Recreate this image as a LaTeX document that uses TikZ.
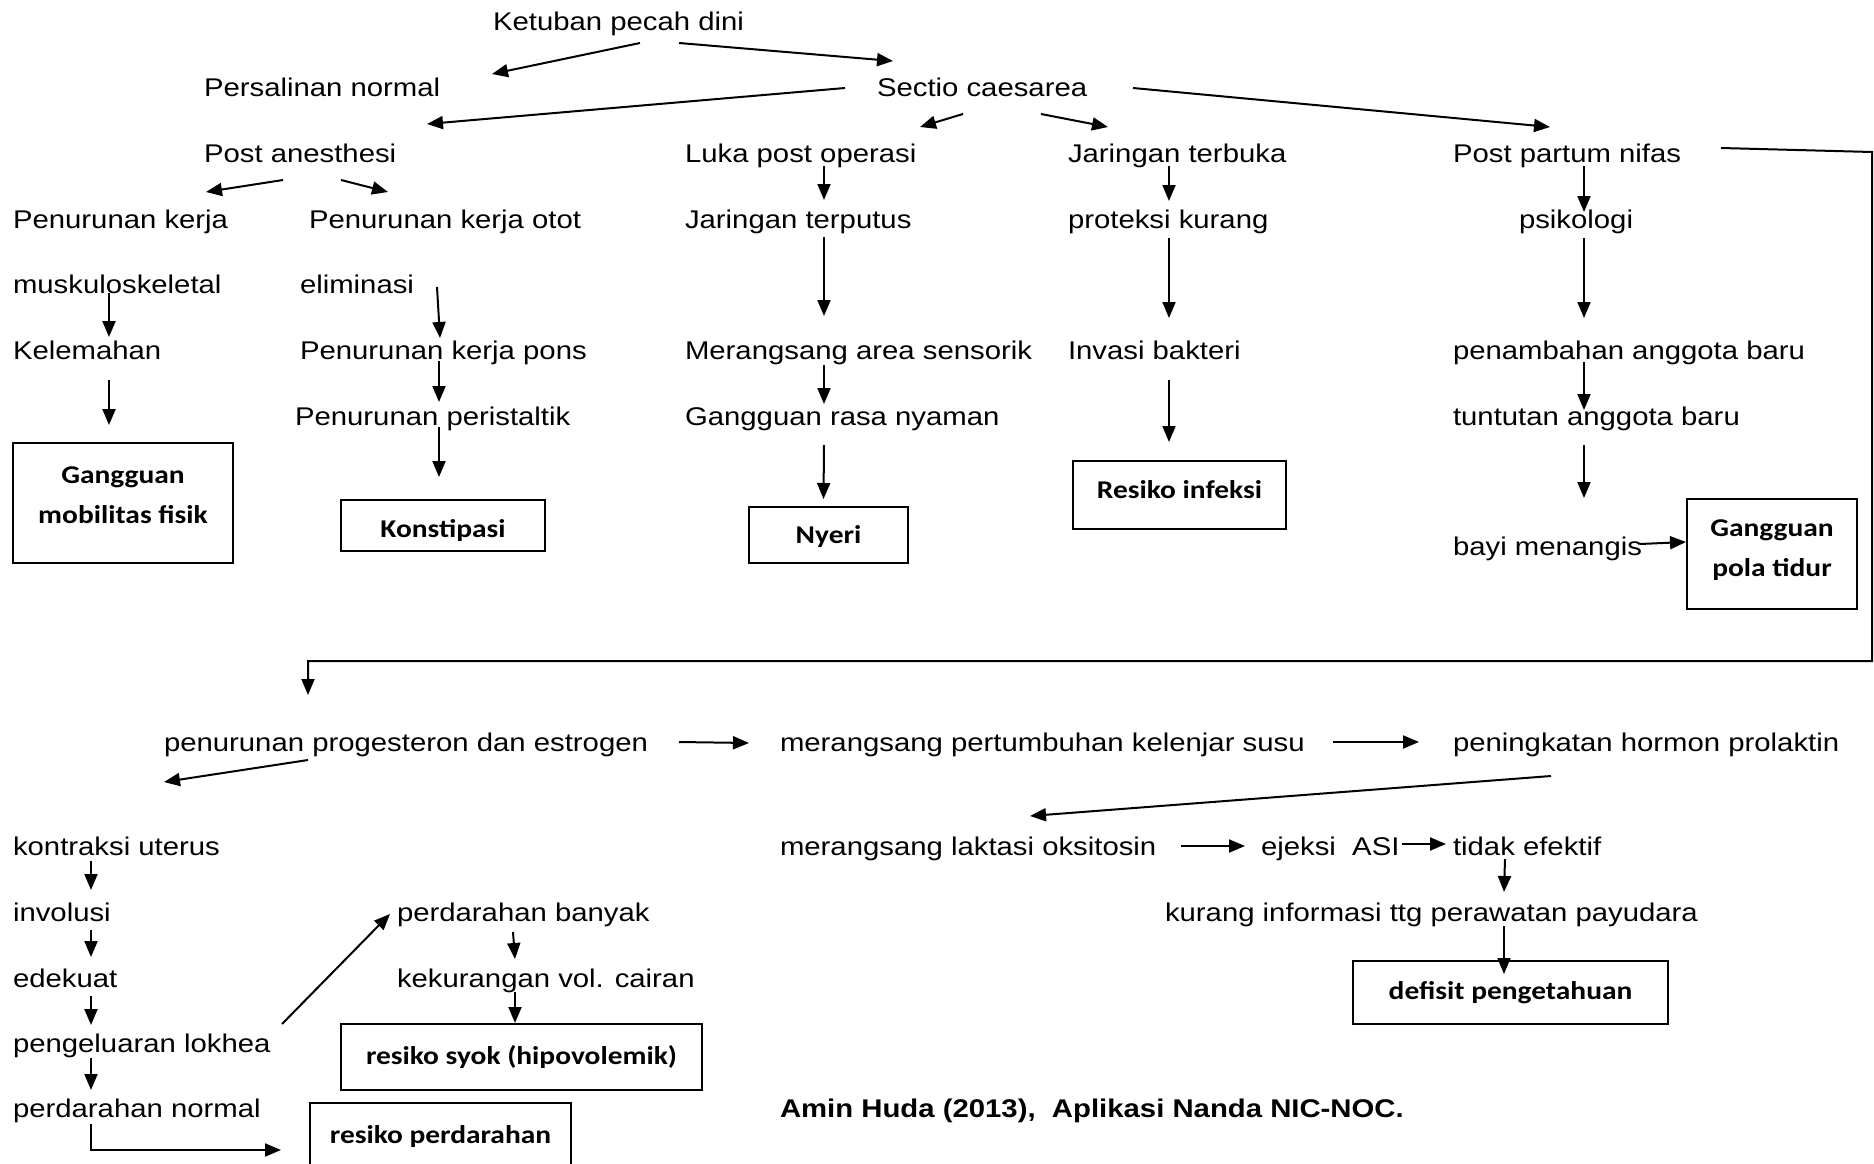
\documentclass[tikz,border=0pt]{standalone}
\usepackage{fontspec}
\setmainfont{Liberation Sans}[FakeStretch=1.145]
\newfontfamily\carlito{Carlito}[FakeStretch=1.15]
\usepackage{tikz}
\usetikzlibrary{arrows.meta}

\begin{document}
\begin{tikzpicture}[x=1pt, y=-1pt, line width=2pt,
  txt/.style={anchor=base west, inner sep=0pt, font=\fontsize{25.6pt}{34pt}\selectfont},
  diag/.style={draw, inner sep=0pt},
  diagtxt/.style={inner sep=0pt, align=center, font=\fontsize{25.6pt}{40pt}\selectfont\carlito\bfseries},
  arr/.style={-{Triangle[length=16pt,width=13pt]}}]

\clip (0,0) rectangle (1874,1164);
\fill[white] (0,0) rectangle (1874,1164);

\node[txt] (ketuban) at (492,31) {Ketuban pecah dini};
\node[txt] (persalinan) at (203,96) {Persalinan normal};
\node[txt] (sectio) at (876,96) {Sectio caesarea};

\node[txt] (anestesi) at (203,162) {Post anesthesi};
\node[txt] (luka) at (684,162) {Luka post operasi};
\node[txt] (terbuka) at (1067,162) {Jaringan terbuka};
\node[txt] (nifas) at (1452,162) {Post partum nifas};

\node[txt] (kerja) at (12,228) {Penurunan kerja};
\node[txt] (otot) at (308,228) {Penurunan kerja otot};
\node[txt] (terputus) at (684,228) {Jaringan terputus};
\node[txt] (proteksi) at (1067,228) {proteksi kurang};
\node[txt] (psikologi) at (1518,228) {psikologi};

\node[txt] (muskulo) at (12,293) {muskuloskeletal};
\node[txt] (eliminasi) at (299,293) {eliminasi};

\node[txt] (lemah) at (12,359) {Kelemahan};
\node[txt] (pons) at (299,359) {Penurunan kerja pons};
\node[txt] (sensorik) at (684,359) {Merangsang area sensorik};
\node[txt] (invasi) at (1067,359) {Invasi bakteri};
\node[txt] (tambah) at (1452,359) {penambahan anggota baru};

\node[txt] (peristaltik) at (294,425) {Penurunan peristaltik};
\node[txt] (nyaman) at (684,425) {Gangguan rasa nyaman};
\node[txt] (tuntutan) at (1452,425) {tuntutan anggota baru};
\node[txt] (bayi) at (1452,555) {bayi menangis};

\node[diag, minimum width=220pt, minimum height=120pt] (mobilitas) at (123,503) {};
\node[diagtxt] at ([yshift=8pt]mobilitas.center) {Gangguan\\mobilitas fisik};
\node[diag, minimum width=204pt, minimum height=51pt] (konstipasi) at (443,525.5) {};
\node[diagtxt] at ([yshift=-5pt]konstipasi.center) {Konstipasi};
\node[diag, minimum width=159pt, minimum height=56pt] (nyeri) at (828.5,535) {};
\node[diagtxt] at ([yshift=-2pt]nyeri.center) {Nyeri};
\node[diag, minimum width=213pt, minimum height=68pt] (infeksi) at (1179.5,495) {};
\node[diagtxt] at ([yshift=5pt]infeksi.center) {Resiko infeksi};
\node[diag, minimum width=170pt, minimum height=110pt] (tidur) at (1772,554) {};
\node[diagtxt] at ([yshift=4pt]tidur.center) {Gangguan\\pola tidur};

\node[txt] (hormon) at (163,751) {penurunan progesteron dan estrogen};
\node[txt] (kelenjar) at (779,751) {merangsang pertumbuhan kelenjar susu};
\node[txt] (prolaktin) at (1452,751) {peningkatan hormon prolaktin};

\node[txt] (kontraksi) at (12,855) {kontraksi uterus};
\node[txt] (laktasi) at (779,855) {merangsang laktasi oksitosin};
\node[txt] (ejeksi) at (1260,855) {ejeksi\ \ ASI};
\node[txt] (tidak) at (1452,855) {tidak efektif};
\node[txt] (involusi) at (12,921) {involusi};
\node[txt] (banyak) at (396,921) {perdarahan banyak};
\node[txt] (informasi) at (1164,921) {kurang informasi ttg perawatan payudara};
\node[txt] (edekuat) at (12,987) {edekuat};
\node[txt] (kekurangan) at (396,987) {kekurangan vol. cairan};
\node[txt] (lokhea) at (12,1052) {pengeluaran lokhea};
\node[txt] (normal) at (12,1117) {perdarahan normal};
\node[txt, font=\fontsize{25.6pt}{34pt}\selectfont\bfseries] (sumber) at (779,1117) {Amin Huda (2013),\ \ Aplikasi Nanda NIC-NOC.};

\node[diag, minimum width=315pt, minimum height=63pt] (defisit) at (1510.5,992.5) {};
\node[diagtxt] at (defisit.center) {defisit pengetahuan};
\node[diag, minimum width=361pt, minimum height=66pt] (syok) at (521.5,1057) {};
\node[diagtxt] at (syok.center) {resiko syok (hipovolemik)};
\node[diag, minimum width=261pt, minimum height=64pt] (resikodarah) at (440.5,1135) {};
\node[diagtxt] at ([yshift=-2pt]resikodarah.center) {resiko perdarahan};

\coordinate (railtop) at (1872,152);
\coordinate (railbottom) at (1872,661);

\draw[arr] ([xshift=148pt,yshift=-12pt]ketuban.base west) -- ([xshift=289pt,yshift=22pt]persalinan.base west);
\draw[arr] ([xshift=187pt,yshift=-12pt]ketuban.base west) -- ([xshift=17pt,yshift=35pt]sectio.base west);
\draw[arr] ([xshift=-31pt,yshift=8pt]sectio.base west) -- ([xshift=224pt,yshift=38pt]anestesi.base west);
\draw[arr] ([xshift=87pt,yshift=-18pt]sectio.base west) -- ([xshift=236pt,yshift=35pt]luka.base west);
\draw[arr] ([xshift=165pt,yshift=-18pt]sectio.base west) -- ([xshift=41pt,yshift=35pt]terbuka.base west);
\draw[arr] ([xshift=257pt,yshift=8pt]sectio.base west) -- ([xshift=98pt,yshift=35pt]nifas.base west);

\draw[arr] ([xshift=80pt,yshift=-18pt]anestesi.base west) -- ([xshift=194pt,yshift=36pt]kerja.base west);
\draw[arr] ([xshift=138pt,yshift=-18pt]anestesi.base west) -- ([xshift=80pt,yshift=36pt]otot.base west);
\draw[arr] ([xshift=97pt]muskulo.base west) -- ([xshift=97pt,yshift=22pt]lemah.base west);
\draw[arr] ([xshift=97pt,yshift=-21pt]lemah.base west) -- ([xshift=-14pt,yshift=17pt]mobilitas.north);
\draw[arr] ([xshift=138pt,yshift=6pt]eliminasi.base west) -- ([xshift=141pt,yshift=21pt]pons.base west);
\draw[arr] ([xshift=140pt,yshift=-2pt]pons.base west) -- ([xshift=145pt,yshift=23pt]peristaltik.base west);
\draw[arr] ([xshift=145pt,yshift=-2pt]peristaltik.base west) -- ([xshift=-4pt,yshift=22pt]konstipasi.north);

\draw[arr] ([xshift=140pt,yshift=-4pt]luka.base west) -- ([xshift=140pt,yshift=28pt]terputus.base west);
\draw[arr] ([xshift=140pt,yshift=-9pt]terputus.base west) -- ([xshift=140pt,yshift=43pt]sensorik.base west);
\draw[arr] ([xshift=140pt,yshift=-6pt]sensorik.base west) -- ([xshift=140pt,yshift=21pt]nyaman.base west);
\draw[arr] ([xshift=140pt,yshift=-20pt]nyaman.base west) -- ([xshift=-5pt,yshift=7pt]nyeri.north);

\draw[arr] ([xshift=102pt,yshift=-4pt]terbuka.base west) -- ([xshift=102pt,yshift=27pt]proteksi.base west);
\draw[arr] ([xshift=102pt,yshift=-10pt]proteksi.base west) -- ([xshift=102pt,yshift=41pt]invasi.base west);
\draw[arr] ([xshift=102pt,yshift=-21pt]invasi.base west) -- ([xshift=-10.5pt,yshift=18pt]infeksi.north);

\draw[arr] ([xshift=132pt,yshift=-4pt]nifas.base west) -- ([xshift=66pt,yshift=16pt]psikologi.base west);
\draw[arr] ([xshift=66pt,yshift=-10pt]psikologi.base west) -- ([xshift=132pt,yshift=41pt]tambah.base west);
\draw[arr] ([xshift=132pt,yshift=-3pt]tambah.base west) -- ([xshift=132pt,yshift=15pt]tuntutan.base west);
\draw[arr] ([xshift=132pt,yshift=-20pt]tuntutan.base west) -- ([xshift=132pt,yshift=57pt]bayi.base west);
\draw[arr] ([xshift=188pt,yshift=11pt]bayi.base west) -- ([yshift=12pt]tidur.west);

\draw[arr] ([xshift=269pt,yshift=14pt]nifas.base west) -- (railtop) -- (railbottom) -| ([xshift=145pt,yshift=56pt]hormon.base west);

\draw[arr] ([xshift=516pt,yshift=9pt]hormon.base west) -- ([xshift=-30pt,yshift=8pt]kelenjar.base west);
\draw[arr] ([xshift=145pt,yshift=-9pt]hormon.base west) -- ([xshift=152pt,yshift=73pt]kontraksi.base west);
\draw[arr] ([xshift=554pt,yshift=9pt]kelenjar.base west) -- ([xshift=-33pt,yshift=9pt]prolaktin.base west);
\draw[arr] ([xshift=99pt,yshift=-25pt]prolaktin.base west) -- ([xshift=251pt,yshift=39pt]laktasi.base west);
\draw[arr] ([xshift=402pt,yshift=9pt]laktasi.base west) -- ([xshift=-15pt,yshift=9pt]ejeksi.base west);
\draw[arr] ([xshift=142pt,yshift=11pt]ejeksi.base west) -- ([xshift=-6pt,yshift=11pt]tidak.base west);
\draw[arr] ([xshift=53pt,yshift=-4pt]tidak.base west) -- ([xshift=340pt,yshift=29pt]informasi.base west);
\draw[arr] ([xshift=340pt,yshift=-5pt]informasi.base west) -- ([xshift=-6.5pt,yshift=-14pt]defisit.north);

\draw[arr] ([xshift=79pt,yshift=-6pt]kontraksi.base west) -- ([xshift=79pt,yshift=31pt]involusi.base west);
\draw[arr] ([xshift=79pt,yshift=-9pt]involusi.base west) -- ([xshift=79pt,yshift=30pt]edekuat.base west);
\draw[arr] ([xshift=79pt,yshift=-9pt]edekuat.base west) -- ([xshift=79pt,yshift=27pt]lokhea.base west);
\draw[arr] ([xshift=79pt,yshift=-6pt]lokhea.base west) -- ([xshift=79pt,yshift=27pt]normal.base west);
\draw[arr] ([xshift=79pt,yshift=-7pt]normal.base west) |- ([xshift=-28pt,yshift=-15pt]resikodarah.west);
\draw[arr] ([xshift=270pt,yshift=28pt]lokhea.base west) -- ([xshift=-6pt,yshift=7pt]banyak.base west);
\draw[arr] ([xshift=117pt,yshift=-11pt]banyak.base west) -- ([xshift=119pt,yshift=28pt]kekurangan.base west);
\draw[arr] ([xshift=119pt,yshift=-5pt]kekurangan.base west) -- ([xshift=-6.5pt]syok.north);

\end{tikzpicture}
\end{document}
